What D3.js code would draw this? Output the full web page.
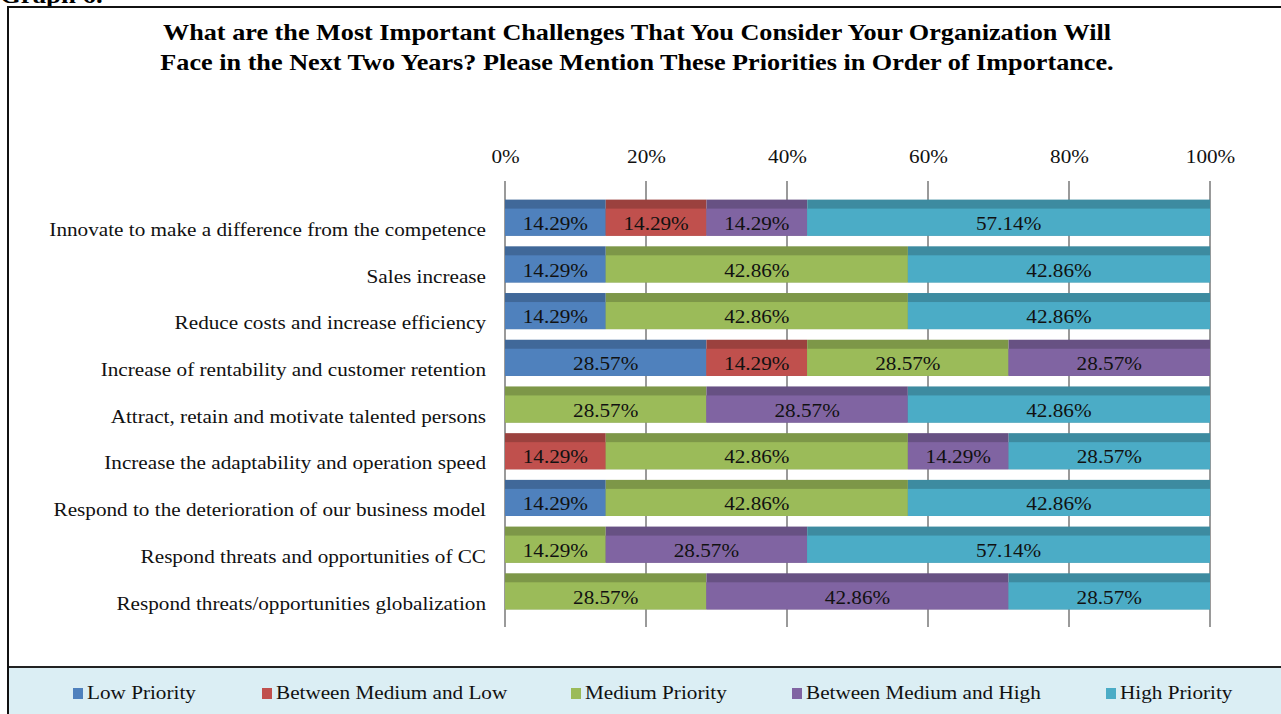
<!DOCTYPE html>
<html>
<head>
<meta charset="utf-8">
<script src="https://cdn.jsdelivr.net/npm/d3@7"></script>
<style>
  body { margin: 0; background: #fff; }
  svg { display: block; font-family: "Liberation Serif", "Times New Roman", serif; }
</style>
</head>
<body>
<svg id="chart" width="1281" height="714"></svg>
<script>
// data
var categories = [
  "Innovate to make a difference from the competence",
  "Sales increase",
  "Reduce costs and increase efficiency",
  "Increase of rentability and customer retention",
  "Attract, retain and motivate talented persons",
  "Increase the adaptability and operation speed",
  "Respond to the deterioration of our business model",
  "Respond threats and opportunities of CC",
  "Respond threats/opportunities globalization"
];
var seriesNames = ["Low Priority", "Between Medium and Low", "Medium Priority", "Between Medium and High", "High Priority"];
var lowPriority     = [14.29, 14.29, 14.29, 28.57, 0,     0,     14.29, 0,     0];
var betweenMedLow   = [14.29, 0,     0,     14.29, 0,     14.29, 0,     0,     0];
var mediumPriority  = [0,     42.86, 42.86, 28.57, 28.57, 42.86, 42.86, 14.29, 28.57];
var betweenMedHigh  = [14.29, 0,     0,     28.57, 28.57, 14.29, 0,     28.57, 42.86];
var highPriority    = [57.14, 42.86, 42.86, 0,     42.86, 28.57, 42.86, 57.14, 28.57];
var tickValues = [0, 20, 40, 60, 80, 100];
var colors = ["#4f81bd", "#c0504d", "#9bbb59", "#8064a2", "#4bacc6"];

var allSeries = [lowPriority, betweenMedLow, mediumPriority, betweenMedHigh, highPriority];
var rows = categories.map(function(c, i) {
  var r = { cat: c };
  seriesNames.forEach(function(s, j) { r[s] = allSeries[j][i]; });
  return r;
});

var svg = d3.select("#chart");
var W = 1281, H = 714;
var stretch = 1.115; // the source picture is a little wider than tall

// frame
svg.append("text")
  .attr("x", 0).attr("y", 3)
  .attr("font-size", 24).attr("font-weight", "bold")
  .text("Graph 6.");
svg.append("rect")
  .attr("x", 8).attr("y", 7).attr("width", W).attr("height", H)
  .attr("fill", "none").attr("stroke", "#111").attr("stroke-width", 2);

// title
var title = svg.append("text")
  .attr("text-anchor", "middle")
  .attr("font-size", 23.5).attr("font-weight", "bold");
title.append("tspan").attr("x", 637).attr("y", 40)
  .text("What are the Most Important Challenges That You Consider Your Organization Will");
title.append("tspan").attr("x", 637).attr("y", 70)
  .text("Face in the Next Two Years? Please Mention These Priorities in Order of Importance.");

// scales
var x = d3.scaleLinear().domain([0, 100]).range([505, 1210]);
var y = d3.scaleBand().domain(categories).range([194, 615]).paddingInner(0.227).paddingOuter(0.12);

// grid / tick lines
svg.append("g").selectAll("line")
  .data(tickValues).join("line")
  .attr("x1", function(d) { return x(d); })
  .attr("x2", function(d) { return x(d); })
  .attr("y1", 181).attr("y2", 627)
  .attr("stroke", "#9a9a9a").attr("stroke-width", 2);

var xAxis = svg.append("g")
  .attr("transform", "translate(0,166)")
  .call(d3.axisTop(x).tickValues(tickValues).tickSize(0).tickFormat(function(d) { return d + "%"; }));
xAxis.select(".domain").remove();
xAxis.selectAll("text")
  .attr("font-family", "Liberation Serif").attr("font-size", 19).attr("fill", "#111");

// stacked bars
var stack = d3.stack().keys(seriesNames);
var layers = stack(rows);

var gLayer = svg.append("g").selectAll("g")
  .data(layers).join("g");

gLayer.each(function(layer, j) {
  var g = d3.select(this);
  var segs = layer.filter(function(d) { return d[1] - d[0] > 0; });
  // darker top strip
  g.selectAll("rect.top").data(segs).join("rect")
    .attr("class", "top")
    .attr("x", function(d) { return x(d[0]); })
    .attr("width", function(d) { return x(d[1]) - x(d[0]); })
    .attr("y", function(d) { return y(d.data.cat); })
    .attr("height", y.bandwidth())
    .attr("fill", d3.color(colors[j]).darker(0.6));
  g.selectAll("rect.body").data(segs).join("rect")
    .attr("class", "body")
    .attr("x", function(d) { return x(d[0]); })
    .attr("width", function(d) { return x(d[1]) - x(d[0]); })
    .attr("y", function(d) { return y(d.data.cat) + 9; })
    .attr("height", y.bandwidth() - 9)
    .attr("fill", colors[j]);
  g.selectAll("text").data(segs).join("text")
    .attr("x", function(d) { return (x(d[0]) + x(d[1])) / 2; })
    .attr("y", function(d) { return y(d.data.cat) + 9 + (y.bandwidth() - 9) / 2 + 2; })
    .attr("dy", "0.3em")
    .attr("text-anchor", "middle")
    .attr("font-size", 19).attr("fill", "#111")
    .text(function(d) { return (d[1] - d[0]).toFixed(2) + "%"; });
});

// category labels
svg.append("g").selectAll("text")
  .data(categories).join("text")
  .attr("x", 486)
  .attr("y", function(d) { return y(d) + 9 + (y.bandwidth() - 9) / 2 + 8; })
  .attr("dy", "0.3em")
  .attr("text-anchor", "end")
  .attr("font-size", 19).attr("fill", "#111")
  .text(function(d) { return d; });

// legend area
svg.append("rect")
  .attr("x", 9).attr("y", 667).attr("width", W).attr("height", H - 667)
  .attr("fill", "#dbeef4");
svg.append("line")
  .attr("x1", 9).attr("x2", W).attr("y1", 667).attr("y2", 667)
  .attr("stroke", "#222").attr("stroke-width", 2);

var legendX = [73, 262, 571, 792, 1106];
var leg = svg.append("g").selectAll("g")
  .data(seriesNames).join("g")
  .attr("transform", function(d, i) { return "translate(" + legendX[i] + ",693)"; });
leg.append("rect")
  .attr("x", 0).attr("y", -5).attr("width", 10).attr("height", 11)
  .attr("fill", function(d, i) { return colors[i]; });
leg.append("text")
  .attr("x", 14).attr("dy", "0.33em")
  .attr("font-size", 19).attr("fill", "#111")
  .text(function(d) { return d; });

// widen every text run to match the stretched source
svg.selectAll("text").each(function() {
  var t = d3.select(this);
  if (t.selectAll("tspan").size() > 0) {
    t.selectAll("tspan").each(function() {
      var w = this.getComputedTextLength();
      d3.select(this).attr("textLength", w * stretch).attr("lengthAdjust", "spacingAndGlyphs");
    });
  } else {
    var w = this.getComputedTextLength();
    t.attr("textLength", w * stretch).attr("lengthAdjust", "spacingAndGlyphs");
  }
});
</script>
</body>
</html>
